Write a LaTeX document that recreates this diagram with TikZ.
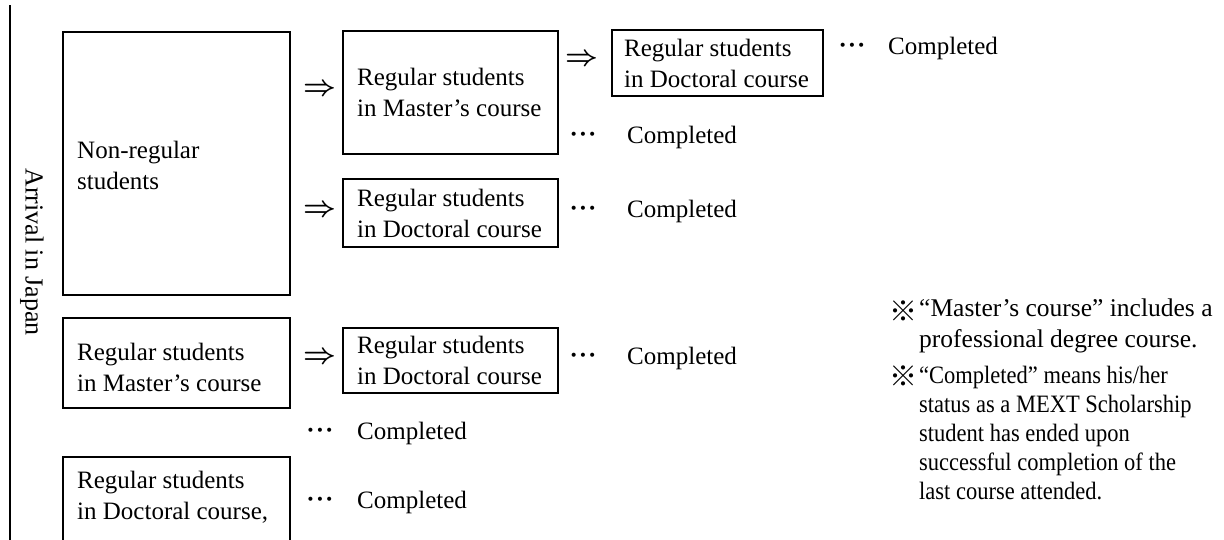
\documentclass[tikz,border=0pt]{standalone}
\usepackage{fontspec}
\setmainfont{Liberation Serif}
\newfontfamily\cjk{Noto Sans CJK JP}
\newfontfamily\narrowfont[FakeStretch=0.9]{Liberation Serif}
\newcommand{\mydots}{\textbf{\textperiodcentered\kern1pt\textperiodcentered\kern1pt\textperiodcentered}}
\newcommand{\bigimp}{\scalebox{1.15}{$\boldsymbol{\Rightarrow}$}}
\usepackage{amsmath}
\begin{document}
\begin{tikzpicture}[x=1pt,y=-1pt,
  every node/.style={font=\fontsize{25}{31}\selectfont},
  box/.style={draw, line width=2.2pt, inner sep=0pt, anchor=north west},
  txt/.style={anchor=west, inner sep=0pt, align=left},
  lbl/.style={anchor=west, inner sep=0pt},
  sym/.style={anchor=center, inner sep=0pt},
  arrowsym/.style={anchor=center, inner sep=0pt},
  note/.style={anchor=west, inner sep=0pt, align=left, font=\fontsize{25.5}{31}\selectfont},
  notesmall/.style={anchor=west, inner sep=0pt, align=left, font=\narrowfont\fontsize{25}{29}\selectfont},
  kome/.style={anchor=center, inner sep=0pt, font=\cjk\bfseries\fontsize{28}{28}\selectfont}]
\useasboundingbox (0,0) rectangle (1224,539);
\clip (0,0) rectangle (1224,539);
% left timeline
\coordinate (lt) at (10,5);
\coordinate (lb) at (10,545);
\draw[line width=2pt] (lt) -- (lb);
\node[sym, rotate=-90, font=\fontsize{26}{26}\selectfont] (arr) at (32,252) {Arrival in Japan};
% left column boxes
\node[box, minimum width=227pt, minimum height=263pt] (nonreg) at (62,31) {};
\node[txt] (nonregt) at ([xshift=15pt,yshift=-2pt]nonreg.west) {Non-regular\\students};
\node[box, minimum width=227pt, minimum height=90pt] (rm) at (62,317) {};
\node[txt] (rmt) at ([xshift=15pt,yshift=-4pt]rm.west) {Regular students\\in Master's course};
\node[box, minimum width=227pt, minimum height=160pt] (rd) at (62,456) {};
\node[txt] (rdt) at (77,497) {Regular students\\in Doctoral course,};
% second column
\node[arrowsym] (a1) at (320,90) {\bigimp};
\node[box, minimum width=215pt, minimum height=123pt] (m1) at (342,30) {};
\node[txt] (m1t) at ([xshift=15pt]m1.west) {Regular students\\in Master's course};
\node[arrowsym] (a2) at (320,211) {\bigimp};
\node[box, minimum width=215pt, minimum height=68pt] (d2) at (342,178) {};
\node[txt] (d2t) at ([xshift=15pt]d2.west) {Regular students\\in Doctoral course};
\node[arrowsym] (a3) at (320,358) {\bigimp};
\node[box, minimum width=215pt, minimum height=65pt] (d3) at (342,327) {};
\node[txt] (d3t) at ([xshift=15pt]d3.west) {Regular students\\in Doctoral course};
\node[sym] (c4d) at (320,433) {\mydots};
\node[lbl] (c4) at (357,433) {Completed};
\node[sym] (c5d) at (320,502) {\mydots};
\node[lbl] (c5) at (357,502) {Completed};
% third column
\node[arrowsym] (a4) at (582,60) {\bigimp};
\node[box, minimum width=211pt, minimum height=66pt] (d1) at (611,29) {};
\node[txt] (d1t) at ([xshift=13pt]d1.west) {Regular students\\in Doctoral course};
\node[sym] (c1d) at (583,137) {\mydots};
\node[lbl] (c1) at (627,137) {Completed};
\node[sym] (c2d) at (583,211) {\mydots};
\node[lbl] (c2) at (627,211) {Completed};
\node[sym] (c3d) at (583,358) {\mydots};
\node[lbl] (c3) at (627,358) {Completed};
% fourth column
\node[sym] (c0d) at (852,48) {\mydots};
\node[lbl] (c0) at (888,48) {Completed};
% notes
\node[kome] (k1) at (903,311) {※};
\node[note] (n1) at (919,326) {“Master’s course” includes a\\professional degree course.};
\node[kome] (k2) at (903,376) {※};
\node[notesmall] (n2) at (919,433) {“Completed” means his/her\\status as a MEXT Scholarship\\student has ended upon\\successful completion of the\\last course attended.};
\end{tikzpicture}
\end{document}
